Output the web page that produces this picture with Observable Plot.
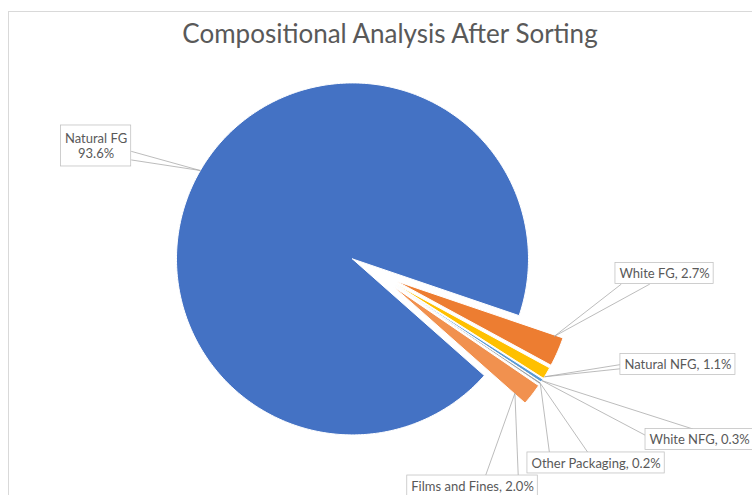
<!DOCTYPE html>
<html>
<head>
<meta charset="utf-8">
<script src="https://cdn.jsdelivr.net/npm/d3@7"></script>
<script src="https://cdn.jsdelivr.net/npm/@observablehq/plot@0.6"></script>
<style>
  body { margin: 0; background: #fff; }
  #chart { position: relative; width: 752px; height: 495px; overflow: hidden; background: #fff;
           font-family: Lato, "Open Sans", sans-serif; }
  #frame { position: absolute; left: 8px; top: 11px; width: 800px; height: 600px;
           border: 1px solid #d9d9d9; box-sizing: border-box; pointer-events: none; }
  #title { position: absolute; left: 28px; top: 20px; width: 724px; height: 26px; line-height: 26px;
           text-align: center; font-size: 26px; color: #595959; white-space: nowrap; }
  #plot { position: absolute; left: 0; top: 60px; }
</style>
</head>
<body>
<div id="chart">
  <div id="frame"></div>
  <div id="title">Compositional Analysis After Sorting</div>
  <div id="plot"></div>
</div>
<script>
// Composition of the sorted stream (% of total)
const categories = ["Natural FG", "White FG", "Natural NFG", "White NFG", "Other Packaging", "Films and Fines"];
const shares = [93.6, 2.7, 1.1, 0.3, 0.2, 2.0];
const colors = ["#4472C4", "#ED7D31", "#FFC000", "#5B9BD5", "#A5A5A5", "#F1914F"];

// Geometry of the pie (px) and slice placement
const W = 752, H = 435;
const R = 176;                 // pie radius
const CX = 373.3, CY = 210.8;  // pie centre inside the svg
const START = 131.5;           // first slice angle, degrees clockwise from 12 o'clock
const EXPLODE = 0.14;          // slice explosion, fraction of radius

// Data-label placement in radius units around the pie centre.
// anchor: [fraction along the slice angle, fraction of radius]
// attach: two points on the label box ([fx, fy], 0 = left / top)
const labelLayout = [
  { x: -1.578, y: 0.712,  anchor: [0.5, 1],    attach: [[1, 0.63], [1, 0.84]], minW: 69, minH: 41 },
  { x: 1.652,  y: -0.013, anchor: [0.05, 0.95], attach: [[0.06, 1], [0.35, 1]] },
  { x: 1.728,  y: -0.530, anchor: [0.85, 1],   attach: [[0, 0.5], [0, 0.7]] },
  { x: 1.851,  y: -0.956, anchor: [0.5, 1],    attach: [[0.44, 0], [0, 0.3]] },
  { x: 1.263,  y: -1.089, anchor: [0.5, 1],    attach: [[0.16, 0], [0.44, 0]] },
  { x: 0.561,  y: -1.220, anchor: [0.97, 0.92], attach: [[0.6, 0], [0.85, 0]] }
];

const FS = 13, LH = 15, PADX = 4, PADY = 3;
const fmt = d3.format(".1f");
const rad = Math.PI / 180;

const arcs = d3.pie().sort(null)
  .startAngle(START * rad).endAngle(START * rad + 2 * Math.PI)(shares);

const slices = arcs.map((p, i) => {
  const mid = (p.startAngle + p.endAngle) / 2;
  return { name: categories[i], value: shares[i], a0: p.startAngle, a1: p.endAngle,
           ox: EXPLODE * Math.sin(mid), oy: EXPLODE * Math.cos(mid) };
});

// Closed outline of every slice: apex, arc, apex
const outline = slices.flatMap(s => {
  const n = Math.max(2, Math.ceil((s.a1 - s.a0) / rad));
  const pts = [{ name: s.name, x: s.ox, y: s.oy }];
  for (let k = 0; k <= n; k++) {
    const a = s.a0 + (s.a1 - s.a0) * k / n;
    pts.push({ name: s.name, x: s.ox + Math.sin(a), y: s.oy + Math.cos(a) });
  }
  pts.push({ name: s.name, x: s.ox, y: s.oy });
  return pts;
});

// Label boxes sized from the rendered text width
const ctx = document.createElement("canvas").getContext("2d");
ctx.font = `${FS}px Lato, "Open Sans", sans-serif`;

const labels = slices.map((s, i) => {
  const L = labelLayout[i];
  const lines = i === 0 ? [s.name, `${fmt(s.value)}%`] : [`${s.name}, ${fmt(s.value)}%`];
  const tw = d3.max(lines, t => ctx.measureText(t).width);
  const wpx = Math.max(tw + 2 * PADX, L.minW || 0);
  const hpx = Math.max(lines.length * LH + 2 * PADY, L.minH || 0);
  const w = wpx / R, h = hpx / R;
  return { name: s.name, text: lines.join("\n"), x: L.x, y: L.y,
           x1: L.x - w / 2, x2: L.x + w / 2, y1: L.y - h / 2, y2: L.y + h / 2 };
});

const leaders = slices.flatMap((s, i) => {
  const L = labelLayout[i], b = labels[i];
  const a = s.a0 + L.anchor[0] * (s.a1 - s.a0);
  const px = s.ox + L.anchor[1] * Math.sin(a), py = s.oy + L.anchor[1] * Math.cos(a);
  return L.attach.map(([fx, fy]) => ({
    x1: px, y1: py,
    x2: b.x1 + fx * (b.x2 - b.x1),
    y2: b.y2 - fy * (b.y2 - b.y1)
  }));
});

const chart = Plot.plot({
  width: W, height: H, margin: 0,
  x: { domain: [-CX / R, (W - CX) / R], axis: null },
  y: { domain: [(CY - H) / R, CY / R], axis: null },
  color: { domain: categories, range: colors },
  style: { fontFamily: 'Lato, "Open Sans", sans-serif', fontSize: `${FS}px`, background: "transparent", overflow: "visible" },
  marks: [
    Plot.line(outline, { x: "x", y: "y", z: "name", fill: "name", stroke: "white", strokeWidth: 1, strokeLinejoin: "round" }),
    Plot.link(leaders, { x1: "x1", y1: "y1", x2: "x2", y2: "y2", stroke: "#A6A6A6", strokeWidth: 0.75 }),
    Plot.rect(labels, { x1: "x1", x2: "x2", y1: "y1", y2: "y2", fill: "white", stroke: "#BFBFBF", strokeWidth: 0.75 }),
    Plot.text(labels, { x: "x", y: "y", text: "text", fill: "#595959", lineHeight: LH / FS, fontSize: FS })
  ]
});
document.getElementById("plot").appendChild(chart);
</script>
</body>
</html>
